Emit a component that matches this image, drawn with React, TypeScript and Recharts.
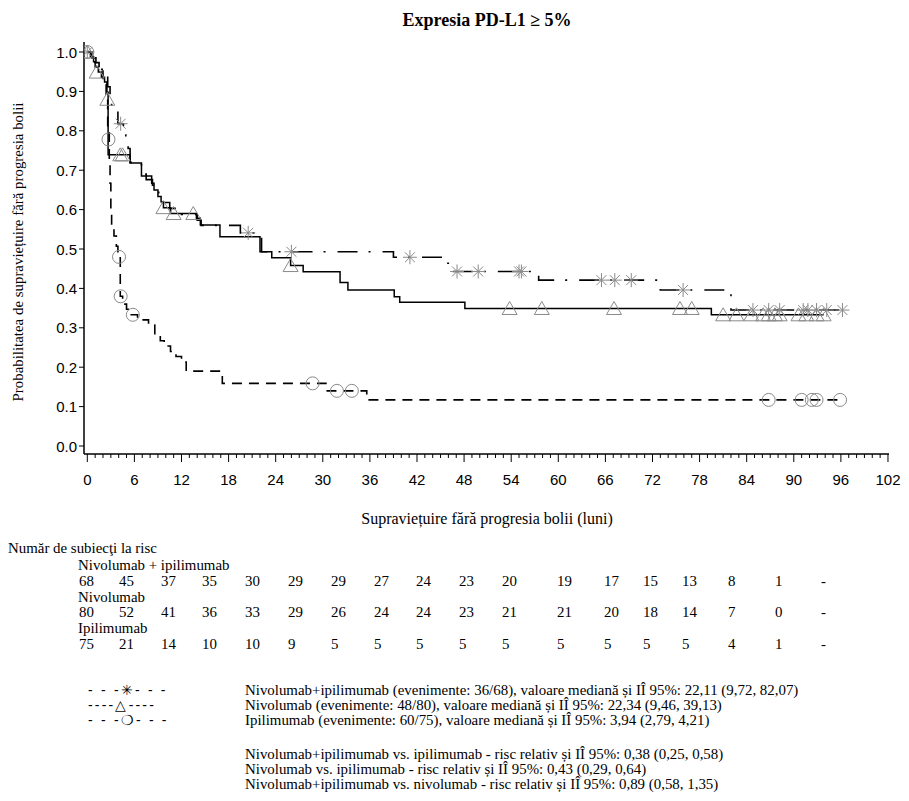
import React from "react";
import { ComposedChart, Line, Scatter, XAxis, YAxis } from "recharts";

// Kaplan–Meier step points: [month, PFS probability]
const nivoIpiCurve: [number, number][] = [
  [0, 1.0], [0.6, 0.985], [1.1, 0.971], [1.6, 0.956], [2.1, 0.941], [2.6, 0.912],
  [2.9, 0.882], [3.1, 0.853], [3.9, 0.818], [4.6, 0.79], [4.9, 0.772], [5.2, 0.755],
  [5.45, 0.72], [6.9, 0.69], [7.5, 0.676], [8.3, 0.662], [8.7, 0.647], [9.1, 0.632],
  [9.6, 0.618], [10.5, 0.603], [12.0, 0.588], [14.0, 0.573], [14.5, 0.56], [19.5, 0.541],
  [22.2, 0.493], [39.0, 0.479], [45.2, 0.464], [46.4, 0.443], [57.5, 0.421], [73.0, 0.396],
  [82.0, 0.345], [96.2, 0.345],
];

const nivoCurve: [number, number][] = [
  [0, 1.0], [0.4, 0.988], [0.8, 0.975], [1.0, 0.962], [1.4, 0.949], [1.8, 0.936],
  [2.2, 0.924], [2.5, 0.898], [2.65, 0.739], [5.45, 0.718], [6.9, 0.685], [8.2, 0.667],
  [8.5, 0.65], [9.0, 0.633], [9.4, 0.62], [9.7, 0.605], [10.6, 0.59], [13.9, 0.578],
  [14.4, 0.561], [16.9, 0.531], [22.0, 0.493], [23.5, 0.478], [25.9, 0.458], [27.5, 0.442],
  [32.2, 0.415], [33.2, 0.396], [39.1, 0.379], [39.8, 0.365], [48.1, 0.349], [79.5, 0.333],
  [93.8, 0.333],
];

const ipiCurve: [number, number][] = [
  [0, 1.0], [0.5, 0.987], [1.0, 0.973], [1.5, 0.96], [2.0, 0.933], [2.4, 0.893],
  [2.6, 0.8], [2.8, 0.72], [2.9, 0.667], [3.0, 0.6], [3.1, 0.56], [3.4, 0.533],
  [3.7, 0.507], [3.9, 0.48], [4.2, 0.38], [4.5, 0.36], [5.0, 0.347], [5.6, 0.333],
  [6.4, 0.32], [7.8, 0.307], [8.6, 0.28], [9.3, 0.267], [9.8, 0.254], [10.6, 0.24],
  [11.3, 0.227], [12.0, 0.213], [12.6, 0.19], [17.2, 0.159], [30.4, 0.14], [35.6, 0.117],
  [95.9, 0.117],
];

// Censored observations
const nivoIpiCensored: [number, number][] = [
  [0, 1.0], [4.25, 0.818], [20.5, 0.541], [26.0, 0.493], [41.1, 0.479], [47.1, 0.443],
  [49.8, 0.443], [55.0, 0.443], [55.3, 0.443], [65.5, 0.421], [67.2, 0.421], [69.3, 0.421],
  [75.9, 0.396], [84.8, 0.345], [86.8, 0.345], [88.2, 0.345], [91.2, 0.345], [91.8, 0.345],
  [92.9, 0.345], [94.2, 0.345], [96.2, 0.345],
];

const nivoCensored: [number, number][] = [
  [0, 1.0], [1.2, 0.949], [2.55, 0.88], [4.2, 0.739], [4.5, 0.739], [9.7, 0.605],
  [11.0, 0.59], [13.5, 0.59], [25.9, 0.458], [53.8, 0.349], [57.9, 0.349], [67.1, 0.349],
  [75.5, 0.349], [77.0, 0.349], [81.0, 0.333], [82.7, 0.333], [84.6, 0.333], [86.1, 0.333],
  [86.8, 0.333], [87.6, 0.333], [88.2, 0.333], [90.6, 0.333], [91.6, 0.333], [92.9, 0.333],
  [93.8, 0.333],
];

const ipiCensored: [number, number][] = [
  [0, 1.0], [2.7, 0.778], [4.04, 0.48], [4.25, 0.38], [5.8, 0.333], [28.7, 0.159],
  [31.8, 0.14], [33.7, 0.14], [86.8, 0.117], [91.0, 0.117], [92.3, 0.117], [92.9, 0.117],
  [95.9, 0.117],
];

// Axis ticks
const xLabelTicks = [0, 6, 12, 18, 24, 30, 36, 42, 48, 54, 60, 66, 72, 78, 84, 90, 96, 102];
const yTicks = [0, 0.1, 0.2, 0.3, 0.4, 0.5, 0.6, 0.7, 0.8, 0.9, 1.0];

// Number at risk table
const atRiskGroups = ["Nivolumab + ipilimumab", "Nivolumab", "Ipilimumab"];
const atRiskNivoIpi = ["68", "45", "37", "35", "30", "29", "29", "27", "24", "23", "20", "19", "17", "15", "13", "8", "1", "-"];
const atRiskNivo = ["80", "52", "41", "36", "33", "29", "26", "24", "24", "23", "21", "21", "20", "18", "14", "7", "0", "-"];
const atRiskIpi = ["75", "21", "14", "10", "10", "9", "5", "5", "5", "5", "5", "5", "5", "5", "5", "4", "1", "-"];

const legendSymbols = ["- - -\u2733- - -", "----\u25B3----", "- - -\u274D- - -"];
const legendLines = [
  "Nivolumab+ipilimumab (evenimente: 36/68), valoare mediană și IÎ 95%: 22,11 (9,72, 82,07)",
  "Nivolumab (evenimente: 48/80), valoare mediană și IÎ 95%: 22,34 (9,46, 39,13)",
  "Ipilimumab (evenimente: 60/75), valoare mediană și IÎ 95%: 3,94 (2,79, 4,21)",
];
const hazardLines = [
  "Nivolumab+ipilimumab vs. ipilimumab - risc relativ și IÎ 95%: 0,38 (0,25, 0,58)",
  "Nivolumab vs. ipilimumab - risc relativ și IÎ 95%: 0,43 (0,29, 0,64)",
  "Nivolumab+ipilimumab vs. nivolumab - risc relativ și IÎ 95%: 0,89 (0,58, 1,35)",
];

const toRows = (pts: [number, number][]) => pts.map(([t, s]) => ({ t, s }));

const minorTicks: number[] = [];
for (let m = 0; m <= 102; m++) minorTicks.push(m);

const X_DOMAIN: [number, number] = [-0.42, 102.13];
const Y_DOMAIN: [number, number] = [-0.0203, 1.0254];

const SERIF = "'Liberation Serif', 'Times New Roman', serif";
const SANS = "'Liberation Sans', Arial, sans-serif";
const MARK = "#8a8a8a";

const XTick = (props: any) => {
  const { x, y, payload } = props;
  const v = payload.value as number;
  const major = xLabelTicks.includes(v);
  return (
    <g>
      <line x1={x} x2={x} y1={y} y2={y + (major ? 8 : 4)} stroke="#000" strokeWidth={1} />
      {major && (
        <text x={x} y={y + 25} textAnchor="middle" dominantBaseline="central" fontFamily={SANS} fontSize={15} fill="#000">
          {v}
        </text>
      )}
    </g>
  );
};

const YTick = (props: any) => {
  const { x, y, payload } = props;
  return (
    <g>
      <line x1={x - 5} x2={x} y1={y} y2={y} stroke="#000" strokeWidth={1} />
      <text x={x - 7} y={y} textAnchor="end" dominantBaseline="central" fontFamily={SANS} fontSize={15} fill="#000">
        {(payload.value as number).toFixed(1)}
      </text>
    </g>
  );
};

const CircleMark = (p: any) => (
  <circle cx={p.cx} cy={p.cy} r={6.5} fill="none" stroke={MARK} strokeWidth={1} />
);
const TriangleMark = (p: any) => (
  <path d={`M${p.cx},${p.cy - 7} L${p.cx + 7.5},${p.cy + 6} L${p.cx - 7.5},${p.cy + 6} Z`} fill="none" stroke={MARK} strokeWidth={1} />
);
const StarMark = (p: any) => {
  const { cx, cy } = p;
  return (
    <g stroke={MARK} strokeWidth={1}>
      <line x1={cx - 7} x2={cx + 7} y1={cy} y2={cy} />
      <line x1={cx} x2={cx} y1={cy - 7} y2={cy + 7} />
      <line x1={cx - 5} x2={cx + 5} y1={cy - 5} y2={cy + 5} />
      <line x1={cx - 5} x2={cx + 5} y1={cy + 5} y2={cy - 5} />
    </g>
  );
};

// left edges (page px) of the at-risk columns
const colLeft = [79, 119, 161, 202, 245, 288, 331, 374, 416, 459, 502, 557, 604, 643, 682, 728, 775, 821];

const textBase: React.CSSProperties = {
  position: "absolute",
  fontFamily: SERIF,
  fontSize: 14.9,
  lineHeight: "16px",
  whiteSpace: "nowrap",
  color: "#000",
};

export default function App() {
  const numberRow = (vals: string[], top: number) =>
    vals.map((v, i) => (
      <div key={i} style={{ ...textBase, left: colLeft[i] - 8, top }}>{v}</div>
    ));

  return (
    <div style={{ position: "relative", width: 893, height: 785, background: "#fff" }}>
      <ComposedChart width={893} height={540} margin={{ top: 34, right: 12, bottom: 54, left: 0 }}>
        <XAxis
          xAxisId={0}
          dataKey="t"
          type="number"
          domain={X_DOMAIN}
          ticks={minorTicks}
          interval={0}
          allowDataOverflow
          height={40}
          tickSize={0}
          tickMargin={0}
          tickLine={false}
          tick={<XTick />}
          axisLine={{ stroke: "#000", strokeWidth: 1.5 }}
        />
        <XAxis
          xAxisId="top"
          orientation="top"
          type="number"
          domain={X_DOMAIN}
          allowDataOverflow
          height={0}
          tick={false}
          tickLine={false}
          axisLine={{ stroke: "#000", strokeWidth: 1.5 }}
        />
        <YAxis
          yAxisId={0}
          dataKey="s"
          type="number"
          domain={Y_DOMAIN}
          ticks={yTicks}
          interval={0}
          allowDataOverflow
          width={76}
          tickSize={0}
          tickMargin={0}
          tickLine={false}
          tick={<YTick />}
          axisLine={{ stroke: "#000", strokeWidth: 1.5 }}
        />
        <YAxis
          yAxisId="right"
          orientation="right"
          type="number"
          domain={Y_DOMAIN}
          allowDataOverflow
          width={0}
          tick={false}
          tickLine={false}
          axisLine={{ stroke: "#000", strokeWidth: 1.5 }}
        />
        <Line data={toRows(ipiCurve)} dataKey="s" type="stepAfter" stroke="#000" strokeWidth={1.6} strokeDasharray="10 7" dot={false} activeDot={false} isAnimationActive={false} />
        <Line data={toRows(nivoCurve)} dataKey="s" type="stepAfter" stroke="#000" strokeWidth={1.5} dot={false} activeDot={false} isAnimationActive={false} />
        <Line data={toRows(nivoIpiCurve)} dataKey="s" type="stepAfter" stroke="#000" strokeWidth={1.6} strokeDasharray="20 11 2 12" dot={false} activeDot={false} isAnimationActive={false} />
        <Scatter data={toRows(ipiCensored)} shape={<CircleMark />} isAnimationActive={false} />
        <Scatter data={toRows(nivoCensored)} shape={<TriangleMark />} isAnimationActive={false} />
        <Scatter data={toRows(nivoIpiCensored)} shape={<StarMark />} isAnimationActive={false} />
      </ComposedChart>

      {/* titles */}
      <div style={{ ...textBase, left: 279, width: 400, top: 2, textAlign: "center", fontWeight: "bold", fontSize: 18, lineHeight: "20px" }}>
        Expresia PD-L1 ≥ 5%
      </div>
      <div style={{ ...textBase, left: 279, width: 400, top: 502, textAlign: "center", fontSize: 16, lineHeight: "18px" }}>
        Supraviețuire fără progresia bolii (luni)
      </div>
      <div
        style={{
          ...textBase,
          left: 10 - 200,
          top: 244 - 8,
          width: 400,
          textAlign: "center",
          transform: "rotate(-90deg)",
        }}
      >
        Probabilitatea de supraviețuire fără progresia bolii
      </div>

      {/* number at risk */}
      <div style={{ ...textBase, left: 0, top: 532 }}>Număr de subiecţi la risc</div>
      <div style={{ ...textBase, left: 70, top: 549 }}>{atRiskGroups[0]}</div>
      {numberRow(atRiskNivoIpi, 565)}
      <div style={{ ...textBase, left: 70, top: 581 }}>{atRiskGroups[1]}</div>
      {numberRow(atRiskNivo, 596)}
      <div style={{ ...textBase, left: 70, top: 612 }}>{atRiskGroups[2]}</div>
      {numberRow(atRiskIpi, 628)}

      {/* legend */}
      {legendSymbols.map((s, i) => (
        <div key={"s" + i} style={{ ...textBase, left: 80, top: 674 + i * 15, fontFamily: SANS, fontSize: 14, letterSpacing: "2.2px" }}>{s}</div>
      ))}
      {legendLines.map((s, i) => (
        <div key={"l" + i} style={{ ...textBase, left: 237, top: 674 + i * 15 }}>{s}</div>
      ))}
      {hazardLines.map((s, i) => (
        <div key={"h" + i} style={{ ...textBase, left: 237, top: 738 + i * 15 }}>{s}</div>
      ))}
    </div>
  );
}
